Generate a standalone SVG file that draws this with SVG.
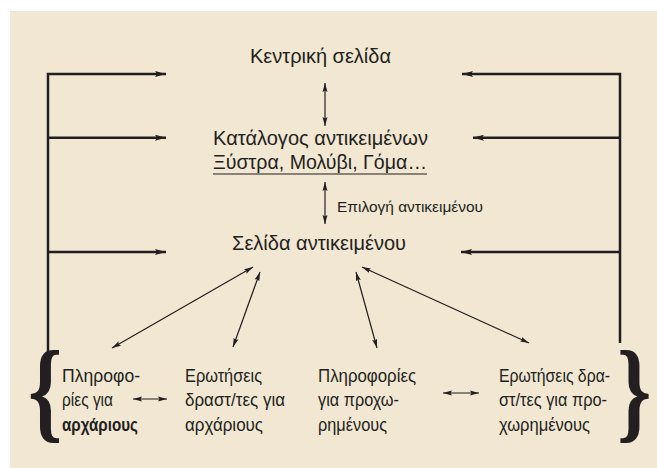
<svg xmlns="http://www.w3.org/2000/svg" width="657" height="468" viewBox="0 0 657 468">
<defs>
<style>
.t{font-family:"Liberation Sans","DejaVu Sans",sans-serif;fill:#231f20}
.big{font-size:20px}
.small{font-size:15px}
.col{font-size:19px}
.b{font-weight:bold}
.brace{font-family:"Liberation Serif","DejaVu Serif",serif;font-weight:bold;font-size:112px;fill:#231f20}
.thick{fill:none;stroke:#231f20;stroke-width:2.5;marker-end:url(#ah)}
.thin{fill:none;stroke:#231f20;stroke-width:1.2;marker-start:url(#as);marker-end:url(#as)}
</style>
<marker id="ah" markerUnits="userSpaceOnUse" viewBox="0 0 11 6" refX="11" refY="3" markerWidth="11" markerHeight="6" orient="auto">
<path d="M0,0 L11,3 L0,6 L2,3 z" fill="#231f20"/>
</marker>
<marker id="as" markerUnits="userSpaceOnUse" viewBox="0 0 9 6" refX="9" refY="3" markerWidth="9" markerHeight="6" orient="auto-start-reverse">
<path d="M0,0.5 L9,3 L0,5.5 L1.5,3 z" fill="#231f20"/>
</marker>
</defs>
<rect x="10" y="11" width="647" height="457" fill="#f2e7d2"/>

<g id="connectors">
<path class="thick" d="M48,355 V74 H166"/>
<path class="thick" d="M48,137.7 H166"/>
<path class="thick" d="M48,252 H166"/>
<path class="thick" d="M620,343 V74 H462"/>
<path class="thick" d="M620,137.7 H473"/>
<path class="thick" d="M620,252 H461"/>
<path class="thin" d="M325,83 V126"/>
<path class="thin" d="M325,182 V224"/>
<path class="thin" d="M253,267 L112,348"/>
<path class="thin" d="M260,272 L233,347"/>
<path class="thin" d="M356,272 L377,348"/>
<path class="thin" d="M362,267 L529,343"/>
<path class="thin" d="M133,399 H167"/>
<path class="thin" d="M443,393 H479"/>
<text class="t small" x="337" y="212" textLength="146" lengthAdjust="spacingAndGlyphs">Επιλογή αντικειμένου</text>
</g>

<g id="home">
<text class="t big" x="250" y="63" textLength="141" lengthAdjust="spacingAndGlyphs">Κεντρική σελίδα</text>
</g>

<g id="catalog">
<text class="t big" x="213" y="145" textLength="215" lengthAdjust="spacingAndGlyphs">Κατάλογος αντικειμένων</text>
<text class="t big" x="213" y="169" textLength="214" lengthAdjust="spacingAndGlyphs">Ξύστρα, Μολύβι, Γόμα…</text>
<line x1="213" y1="174" x2="427" y2="174" stroke="#231f20" stroke-width="1.2"/>
</g>

<g id="item">
<text class="t big" x="232" y="250" textLength="174" lengthAdjust="spacingAndGlyphs">Σελίδα αντικειμένου</text>
</g>

<g id="braces">
<text class="brace" transform="translate(28,428) scale(0.78,1)">{</text>
<text class="brace" transform="translate(617,428) scale(0.78,1)">}</text>
</g>

<g id="info-beginners" transform="translate(62,0) scale(0.85,1)">
<text class="t col" x="0" y="382" textLength="91.8" lengthAdjust="spacingAndGlyphs">Πληροφο-</text>
<text class="t col" x="0" y="406" textLength="60" lengthAdjust="spacingAndGlyphs">ρίες για</text>
<text class="t col b" x="0" y="431" textLength="89.4" lengthAdjust="spacingAndGlyphs">αρχάριους</text>
</g>

<g id="quiz-beginners" transform="translate(185,0) scale(0.85,1)">
<text class="t col" x="0" y="382" textLength="90.6" lengthAdjust="spacingAndGlyphs">Ερωτήσεις</text>
<text class="t col" x="0" y="406" textLength="117.6" lengthAdjust="spacingAndGlyphs">δραστ/τες για</text>
<text class="t col" x="0" y="431" textLength="91.8" lengthAdjust="spacingAndGlyphs">αρχάριους</text>
</g>

<g id="info-advanced" transform="translate(318,0) scale(0.85,1)">
<text class="t col" x="0" y="382" textLength="115.3" lengthAdjust="spacingAndGlyphs">Πληροφορίες</text>
<text class="t col" x="0" y="406" textLength="95.3" lengthAdjust="spacingAndGlyphs">για προχω-</text>
<text class="t col" x="0" y="431" textLength="81.2" lengthAdjust="spacingAndGlyphs">ρημένους</text>
</g>

<g id="quiz-advanced" transform="translate(499,0) scale(0.85,1)">
<text class="t col" x="0" y="382" textLength="130.6" lengthAdjust="spacingAndGlyphs">Ερωτήσεις δρα-</text>
<text class="t col" x="0" y="406" textLength="127.1" lengthAdjust="spacingAndGlyphs">στ/τες για προ-</text>
<text class="t col" x="0" y="431" textLength="107.1" lengthAdjust="spacingAndGlyphs">χωρημένους</text>
</g>
</svg>
